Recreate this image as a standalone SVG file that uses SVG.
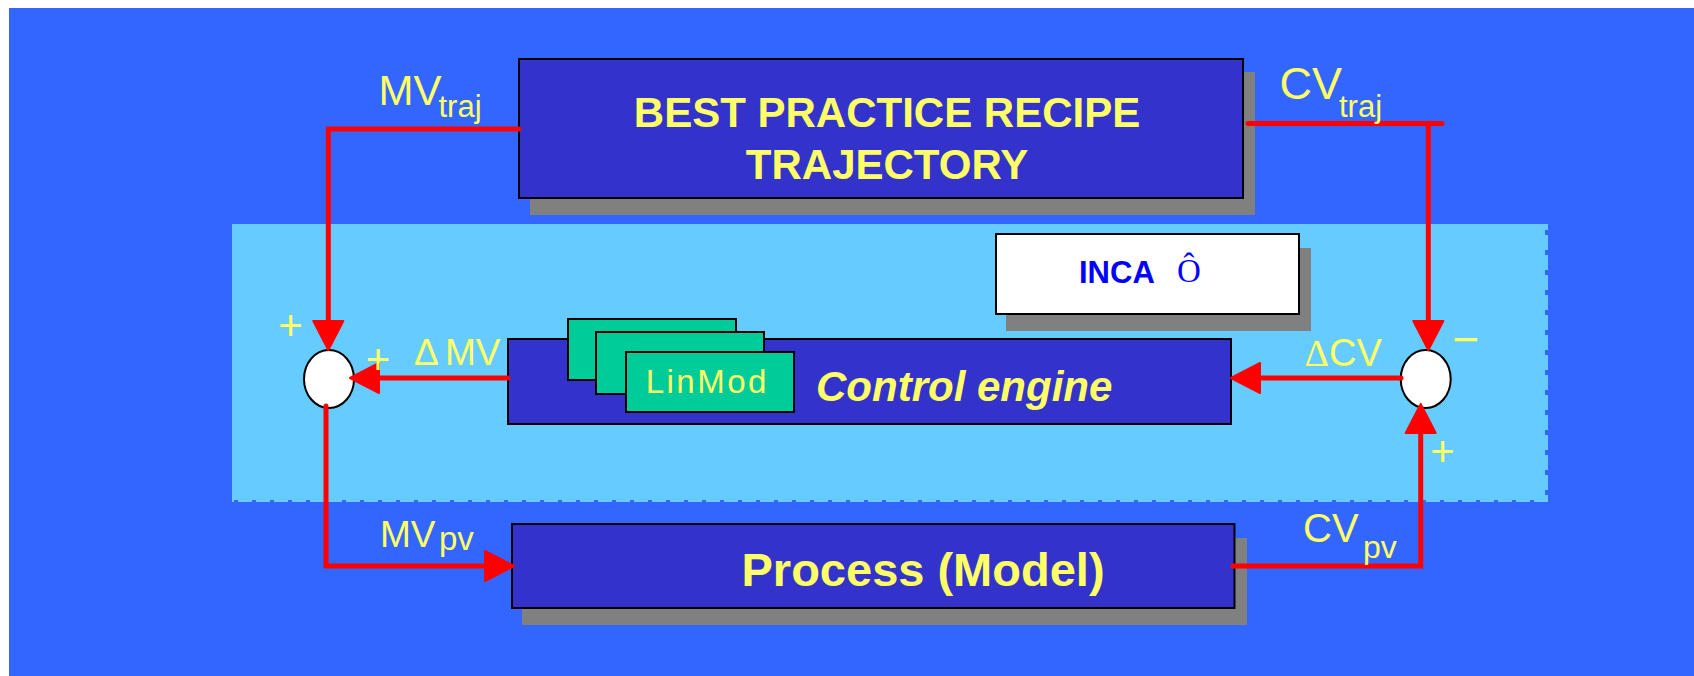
<svg xmlns="http://www.w3.org/2000/svg" width="1694" height="676" viewBox="0 0 1694 676">
<style>
.box{fill:#3333CC;stroke:#000;stroke-width:2}
.shadow{fill:#808080}
.card{fill:#00CC99;stroke:#000;stroke-width:2}
.lbl{font-family:"Liberation Sans",Arial,sans-serif;fill:#FFFF66}
.bold{font-weight:bold}
.conn{fill:none;stroke:#FF0000;stroke-width:5;stroke-linecap:round;stroke-linejoin:miter}
.sum{fill:#FFFFFF;stroke:#000;stroke-width:2}
</style>
<defs>
<marker id="arr" markerUnits="userSpaceOnUse" markerWidth="36" markerHeight="36" viewBox="-2 -18 36 36" refX="0" refY="0" orient="auto">
<path d="M0,-15 L29,0 L0,15 Z" fill="#FF0000" stroke="#FF0000" stroke-width="2" stroke-linejoin="round"/>
</marker>
</defs>
<rect x="0" y="0" width="1694" height="676" fill="#FFFFFF"/>
<rect x="9" y="8" width="1685" height="668" fill="#3366FF"/>

<g id="panel">
<rect x="232" y="224" width="1316" height="278" fill="#66CCFF"/>
<line x1="234" y1="501.5" x2="1546" y2="501.5" stroke="#3366FF" stroke-width="3" stroke-dasharray="4 14"/>
<line x1="1546.5" y1="230" x2="1546.5" y2="500" stroke="#3366FF" stroke-width="3" stroke-dasharray="5 15"/>
</g>

<g id="recipe">
<rect class="shadow" x="530" y="72" width="725" height="143"/>
<rect class="box" x="519" y="59" width="724" height="139"/>
<text class="lbl bold" x="887" y="127.3" font-size="42" text-anchor="middle">BEST PRACTICE RECIPE</text>
<text class="lbl bold" x="887" y="178.7" font-size="42" text-anchor="middle">TRAJECTORY</text>
</g>

<g id="inca">
<rect class="shadow" x="1006" y="248" width="305" height="83"/>
<rect x="996" y="234" width="303" height="80" fill="#FFFFFF" stroke="#000" stroke-width="2"/>
<text x="1079" y="282.7" font-family="Liberation Sans, Arial, sans-serif" font-weight="bold" font-size="31" fill="#0000FF">INCA</text>
<text x="1177" y="281.5" font-family="Liberation Serif, Times New Roman, serif" font-size="33" fill="#0000FF">Ô</text>
</g>

<g id="control-engine">
<rect class="box" x="508" y="339" width="723" height="85"/>
<rect class="card" x="568" y="319" width="168" height="61"/>
<rect class="card" x="596" y="332" width="168" height="62"/>
<rect class="card" x="626" y="352" width="168" height="60"/>
<text class="lbl" x="645.7" y="392.7" font-size="33" letter-spacing="2.5">LinMod</text>
<text class="lbl bold" x="816" y="401" font-size="42" font-style="italic">Control engine</text>
</g>

<g id="process">
<rect class="shadow" x="522" y="538" width="725" height="87"/>
<rect class="box" x="512" y="524" width="722.5" height="84"/>
<text class="lbl bold" x="741.5" y="586" font-size="47">Process (Model)</text>
</g>

<g id="sum-left">
<ellipse class="sum" cx="329" cy="379" rx="25" ry="29"/>
</g>
<g id="sum-right">
<ellipse class="sum" cx="1425.7" cy="379" rx="25" ry="29"/>
</g>

<g id="connectors">
<path class="conn" d="M519,129 H328.3 V321" marker-end="url(#arr)"/>
<path class="conn" d="M508,378 H379" marker-end="url(#arr)"/>
<path class="conn" d="M326,406 V566 H485" marker-end="url(#arr)"/>
<path class="conn" d="M1248,123.5 H1442"/>
<path class="conn" d="M1428.3,126 V321" marker-end="url(#arr)"/>
<path class="conn" d="M1401,378 H1260" marker-end="url(#arr)"/>
<path class="conn" d="M1233,566 H1420.7 V433" marker-end="url(#arr)"/>
</g>

<g id="labels">
<text class="lbl" x="378.5" y="105.3" font-size="42">MV</text>
<text class="lbl" x="438.5" y="117.3" font-size="31">traj</text>
<text class="lbl" x="1279.4" y="99.3" font-size="45">CV</text>
<text class="lbl" x="1339" y="117.3" font-size="31">traj</text>
<text class="lbl" x="414" y="365" font-size="37">Δ</text>
<text class="lbl" x="445" y="365" font-size="37">MV</text>
<text x="1304.5" y="365.7" font-size="38" font-family="Liberation Serif, Times New Roman, serif" fill="#FFFF66">Δ</text>
<text class="lbl" x="1329" y="365.7" font-size="38">CV</text>
<text class="lbl" x="380" y="546.7" font-size="37">MV</text>
<text class="lbl" x="439" y="550" font-size="33">pv</text>
<text class="lbl" x="1303" y="541.7" font-size="40">CV</text>
<text class="lbl" x="1363" y="558.3" font-size="32">pv</text>
<text class="lbl" x="290.5" y="339.7" font-size="42" text-anchor="middle">+</text>
<text class="lbl" x="378" y="373.7" font-size="42" text-anchor="middle">+</text>
<text class="lbl" x="1442.5" y="465.7" font-size="42" text-anchor="middle">+</text>
<text class="lbl" x="1466" y="355" font-size="46" text-anchor="middle">−</text>
</g>
</svg>
